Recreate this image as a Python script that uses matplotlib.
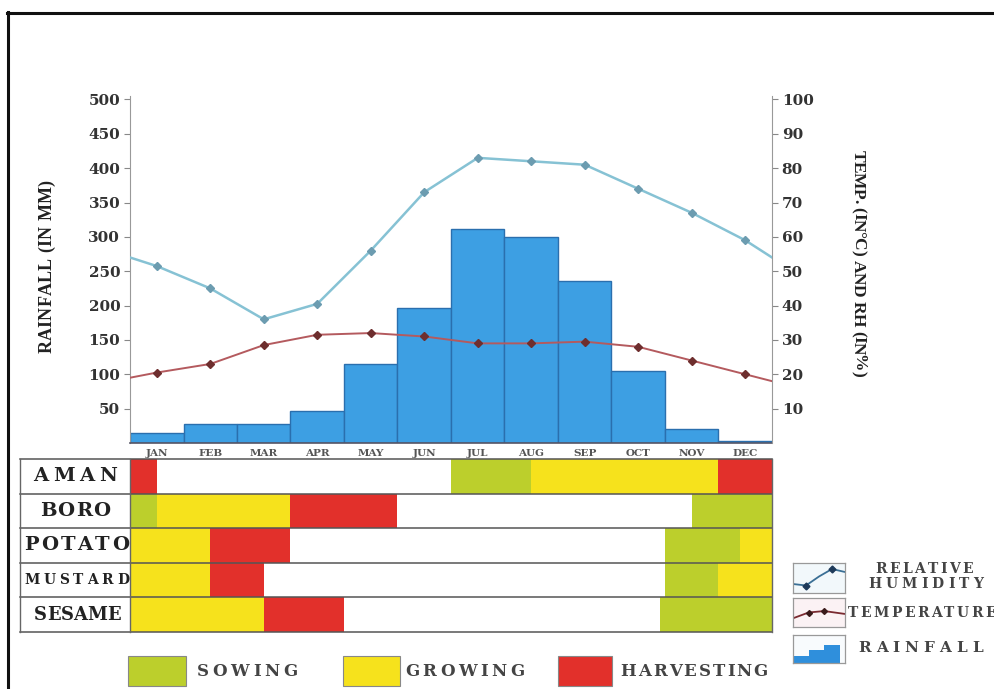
import matplotlib
matplotlib.use('Agg')
import matplotlib.pyplot as plt
from matplotlib.patches import Rectangle
from matplotlib.lines import Line2D

# ---------------- data ----------------
months = ['JAN', 'FEB', 'MAR', 'APR', 'MAY', 'JUN', 'JUL', 'AUG', 'SEP', 'OCT', 'NOV', 'DEC']
rainfall_mm = [14, 28, 28, 47, 115, 197, 311, 300, 236, 105, 20, 3]
humidity_pct = [51.5, 45, 36, 40.5, 56, 73, 83, 82, 81, 74, 67, 59]
humidity_edges = [54, 54]          # value at left / right axis edge
temperature_c = [20.5, 23, 28.5, 31.5, 32, 31, 29, 29, 29.5, 28, 24, 20]
temperature_edges = [19, 18]
rain_ticks = [50, 100, 150, 200, 250, 300, 350, 400, 450, 500]
right_ticks = [10, 20, 30, 40, 50, 60, 70, 80, 90, 100]

crops = ['AMAN', 'BORO', 'POTATO', 'MUSTARD', 'SESAME']
# (start month, end month, stage)  S=sowing, G=growing, H=harvesting
aman_stages = [(0, 0.5, 'H'), (6, 7.5, 'S'), (7.5, 11, 'G'), (11, 12, 'H')]
boro_stages = [(0, 0.5, 'S'), (0.5, 3, 'G'), (3, 5, 'H'), (10.5, 12, 'S')]
potato_stages = [(0, 1.5, 'G'), (1.5, 3, 'H'), (10, 11.4, 'S'), (11.4, 12, 'G')]
mustard_stages = [(0, 1.5, 'G'), (1.5, 2.5, 'H'), (10, 11, 'S'), (11, 12, 'G')]
sesame_stages = [(0, 2.5, 'G'), (2.5, 4, 'H'), (9.9, 12, 'S')]
crop_stages = [aman_stages, boro_stages, potato_stages, mustard_stages, sesame_stages]
stage_names = {'S': 'SOWING', 'G': 'GROWING', 'H': 'HARVESTING'}
stage_colors = {'S': '#bccf2c', 'G': '#f6e21c', 'H': '#e2302b'}

# ---------------- figure ----------------
W, H = 995, 689
fig = plt.figure(figsize=(W / 100, H / 100), dpi=100)
fig.patch.set_facecolor('white')
SERIF = ['Liberation Serif', 'DejaVu Serif']
WIDE = ['DejaVu Serif']
renderer = fig.canvas.get_renderer()


def fx(px):
    return px / W


def fy(py):
    return 1 - py / H


def spread_text(p0, p1, pc, s, size, family=WIDE, **kw):
    """Horizontal text whose letters are spread to span pixels p0..p1."""
    objs, widths = [], []
    for c in s:
        t = fig.text(0, 0, c if c != ' ' else '', fontsize=size, family=family, **kw)
        w = size * 0.3 * 100 / 72 if c == ' ' else t.get_window_extent(renderer).width
        objs.append(t)
        widths.append(w)
    gap = (p1 - p0 - sum(widths)) / max(len(s) - 1, 1)
    p = p0
    for t, w in zip(objs, widths):
        t.set_position((fx(p), fy(pc)))
        t.set_ha('left')
        t.set_va('center')
        p += w + gap
    return objs


def spread_up(ybottom, ytop, xc, s, size, family=SERIF, **kw):
    objs, widths = [], []
    for c in s:
        t = fig.text(0, 0, c if c != ' ' else '', fontsize=size, family=family, **kw)
        w = size * 0.3 * 100 / 72 if c == ' ' else t.get_window_extent(renderer).width
        t.set_rotation(90)
        objs.append(t)
        widths.append(w)
    gap = ((ybottom - ytop) - sum(widths)) / max(len(s) - 1, 1)
    p = ybottom
    for t, w in zip(objs, widths):
        t.set_position((fx(xc), fy(p)))
        t.set_ha('center')
        t.set_va('bottom')
        p -= w + gap
    return objs


def spread_down(ytop, ybottom, xc, s, size, family=SERIF, **kw):
    objs, widths = [], []
    for c in s:
        t = fig.text(0, 0, c if c != ' ' else '', fontsize=size, family=family, **kw)
        w = size * 0.3 * 100 / 72 if c == ' ' else t.get_window_extent(renderer).width
        t.set_rotation(270)
        objs.append(t)
        widths.append(w)
    gap = ((ybottom - ytop) - sum(widths)) / max(len(s) - 1, 1)
    p = ytop
    for t, w in zip(objs, widths):
        t.set_position((fx(xc), fy(p)))
        t.set_ha('center')
        t.set_va('top')
        p += w + gap
    return objs


# outer frame (top and left edges)
fig.add_artist(Line2D([fx(7), fx(995)], [fy(13), fy(13)], color='#111111', lw=2.2))
fig.add_artist(Line2D([fx(8), fx(8)], [fy(12), fy(689)], color='#111111', lw=2.2))

# ---------------- climate chart ----------------
ax = fig.add_axes([fx(130), fy(443), fx(772) - fx(130), (443 - 96) / H])
centers = [i + 0.5 for i in range(12)]
ax.bar(centers, rainfall_mm, width=1.0, color='#3d9fe3', edgecolor='#2a6fae', linewidth=1.0, zorder=2)
ax.set_xlim(0, 12)
ax.set_ylim(0, 505)
ax.set_yticks(rain_ticks)
ax.set_yticklabels([str(t) for t in rain_ticks], fontsize=11, family=WIDE, color='#333333',
                   fontweight='bold')
ax.set_xticks(centers)
ax.set_xticklabels(months, fontsize=7.5, family=WIDE, color='#555555', fontweight='bold')
ax.tick_params(axis='x', length=0, pad=4)
ax.tick_params(axis='y', length=4, width=0.8, color='#888888', pad=3)
ax.spines['top'].set_visible(False)
ax.spines['right'].set_visible(False)
ax.spines['left'].set_color('#999999')
ax.spines['bottom'].set_color('#555566')
ax.spines['bottom'].set_linewidth(1.2)
ax.patch.set_alpha(0)

ax2 = ax.twinx()
ax2.set_ylim(0, 101)
ax2.set_yticks(right_ticks)
ax2.set_yticklabels([str(t) for t in right_ticks], fontsize=11, family=WIDE, color='#333333',
                    fontweight='bold')
ax2.tick_params(axis='y', length=4, width=0.8, color='#888888', pad=3)
for s in ['top', 'left', 'bottom']:
    ax2.spines[s].set_visible(False)
ax2.spines['right'].set_color('#999999')

line_x = [0] + centers + [12]
rh_line = [humidity_edges[0]] + humidity_pct + [humidity_edges[1]]
t_line = [temperature_edges[0]] + temperature_c + [temperature_edges[1]]
ax2.plot(line_x, rh_line, color='#86c2d4', lw=1.8, zorder=3)
ax2.plot(centers, humidity_pct, ls='none', marker='D', ms=4.5, color='#6c9cb0', zorder=4)
ax2.plot(line_x, t_line, color='#b45a5e', lw=1.4, zorder=3)
ax2.plot(centers, temperature_c, ls='none', marker='D', ms=4, color='#6e2e2e', zorder=4)

spread_up(353, 180, 47, 'RAINFALL (IN MM)', 13, color='#222222', fontweight='bold')
spread_down(150, 377, 858, 'TEMP. (IN°C) AND RH (IN%)', 12.5, color='#222222', fontweight='bold')

# ---------------- crop calendar table ----------------
xmin = -110 / 53.5
tax = fig.add_axes([fx(20), fy(632), fx(772) - fx(20), (632 - 459) / H])
tax.set_xlim(xmin, 12)
tax.set_ylim(len(crops), 0)
tax.axis('off')
for r, stages in enumerate(crop_stages):
    for (s0, s1, st) in stages:
        tax.barh(r + 0.5, s1 - s0, left=s0, height=1.0, color=stage_colors[st],
                 edgecolor='none', zorder=1)
for r in range(len(crops) + 1):
    tax.plot([xmin, 12], [r, r], color='#555555', lw=1.1, zorder=3, clip_on=False)
for xv in [xmin, 0, 12]:
    tax.plot([xv, xv], [0, len(crops)], color='#666666', lw=1.0, zorder=3, clip_on=False)

row_spans = [(33, 117, 14), (40, 110, 14), (24, 129, 14), (24, 129, 10), (34, 121, 13)]
row_top, row_h = 459, (632 - 459) / len(crops)
for r, name in enumerate(crops):
    a, b, size = row_spans[r]
    spread_text(a, b, row_top + row_h * (r + 0.5), name, size, color='#222222', fontweight='bold')

# ---------------- stage legend (bottom) ----------------
legend_boxes = [('S', 128, 186, 197, 297), ('G', 343, 400, 405, 524), ('H', 558, 612, 620, 768)]
for st, x0, x1, t0, t1 in legend_boxes:
    fig.add_artist(Rectangle((fx(x0), fy(686)), fx(x1) - fx(x0), (686 - 656) / H,
                             facecolor=stage_colors[st], edgecolor='#888888', lw=0.8,
                             transform=fig.transFigure))
    spread_text(t0, t1, 671, stage_names[st], 12, color='#444444', fontweight='bold')

# ---------------- series legend (right) ----------------
def icon_axes(y0, y1):
    a = fig.add_axes([fx(793), fy(y1), fx(845) - fx(793), (y1 - y0) / H])
    a.set_xlim(0, 1)
    a.set_ylim(0, 1)
    a.set_xticks([])
    a.set_yticks([])
    for s in a.spines.values():
        s.set_color('#999999')
        s.set_linewidth(0.9)
    return a

ia = icon_axes(563, 593)
ia.set_facecolor('#f2f8fb')
ia.plot([0.0, 0.25, 0.5, 0.75, 1.0], [0.3, 0.25, 0.55, 0.8, 0.7], color='#3a6f95', lw=1.3)
ia.plot([0.25, 0.75], [0.25, 0.8], ls='none', marker='D', ms=3.5, color='#1e3a5a')
spread_text(875, 973, 569, 'RELATIVE', 10, color='#444444', fontweight='bold')
spread_text(868, 983, 584, 'HUMIDITY', 10, color='#444444', fontweight='bold')

ib = icon_axes(598, 627)
ib.set_facecolor('#fbf2f4')
ib.plot([0.0, 0.3, 0.6, 1.0], [0.3, 0.5, 0.55, 0.45], color='#7a2a30', lw=1.3)
ib.plot([0.3, 0.6], [0.5, 0.55], ls='none', marker='D', ms=3, color='#3a1a1a')
spread_text(848, 996, 613, 'TEMPERATURE', 10, color='#444444', fontweight='bold')

ic = icon_axes(635, 663)
ic.set_facecolor('#f8fbfd')
ic.bar([0.15, 0.45, 0.75], [0.25, 0.45, 0.65], width=0.3, color='#2f8fdc')
spread_text(858, 983, 648, 'RAINFALL', 11, color='#444444', fontweight='bold')

fig.savefig('out.png', dpi=100, facecolor='white')
